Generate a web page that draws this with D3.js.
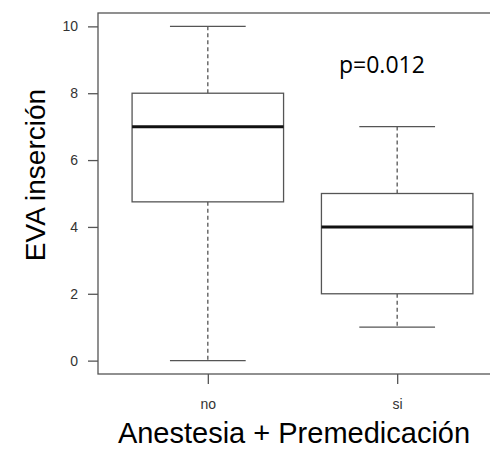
<!DOCTYPE html>
<meta charset="utf-8">
<style>
  body { margin: 0; background: #fff; }
  text { font-family: "Liberation Sans", Arial, sans-serif; }
</style>
<body>
<svg width="490" height="458"></svg>

<script src="https://cdn.jsdelivr.net/npm/d3@7"></script>
<script>

// data
var groups = ["no", "si"];
var mins    = [0, 1];
var q1s     = [4.75, 2];
var medians = [7, 4];
var q3s     = [8, 5];
var maxs    = [10, 7];
var yTicks  = [0, 2, 4, 6, 8, 10];

var svg = d3.select("svg");

// plot region (R style, axes extend 4% past data)
var plot = {left: 98, top: 13, bottom: 374, right: 507};

var x = d3.scaleLinear().domain([0.42, 2.58]).range([plot.left, plot.right]);
var y = d3.scaleLinear().domain([-0.4, 10.4]).range([plot.bottom, plot.top]);

var boxW = 0.8, capW = 0.4;

var data = groups.map(function(g, i) {
  return { name: g, pos: i + 1, min: mins[i], q1: q1s[i], med: medians[i], q3: q3s[i], max: maxs[i] };
});

var g = svg.append("g");

// frame
g.append("rect")
    .attr("x", plot.left).attr("y", plot.top)
    .attr("width", plot.right - plot.left).attr("height", plot.bottom - plot.top)
    .attr("fill", "none")
    .attr("stroke", "#555")
    .attr("stroke-width", 1.3);

var box = g.selectAll(".box")
    .data(data)
  .enter().append("g")
    .attr("class", "box");

// whiskers
box.append("line")
    .attr("x1", function(d) { return x(d.pos); })
    .attr("x2", function(d) { return x(d.pos); })
    .attr("y1", function(d) { return y(d.q3); })
    .attr("y2", function(d) { return y(d.max); })
    .attr("stroke", "#555").attr("stroke-width", 1.3)
    .attr("stroke-dasharray", "4,3");

box.append("line")
    .attr("x1", function(d) { return x(d.pos); })
    .attr("x2", function(d) { return x(d.pos); })
    .attr("y1", function(d) { return y(d.q1); })
    .attr("y2", function(d) { return y(d.min); })
    .attr("stroke", "#555").attr("stroke-width", 1.3)
    .attr("stroke-dasharray", "4,3");

// caps
["min", "max"].forEach(function(k) {
  box.append("line")
      .attr("x1", function(d) { return x(d.pos - capW / 2); })
      .attr("x2", function(d) { return x(d.pos + capW / 2); })
      .attr("y1", function(d) { return y(d[k]); })
      .attr("y2", function(d) { return y(d[k]); })
      .attr("stroke", "#555").attr("stroke-width", 1.3);
});

// boxes
box.append("rect")
    .attr("x", function(d) { return x(d.pos - boxW / 2); })
    .attr("width", function(d) { return x(d.pos + boxW / 2) - x(d.pos - boxW / 2); })
    .attr("y", function(d) { return y(d.q3); })
    .attr("height", function(d) { return y(d.q1) - y(d.q3); })
    .attr("fill", "#fff")
    .attr("stroke", "#555").attr("stroke-width", 1.3);

// medians
box.append("line")
    .attr("x1", function(d) { return x(d.pos - boxW / 2); })
    .attr("x2", function(d) { return x(d.pos + boxW / 2); })
    .attr("y1", function(d) { return y(d.med); })
    .attr("y2", function(d) { return y(d.med); })
    .attr("stroke", "#111").attr("stroke-width", 3);

// y axis
var yAxis = d3.axisLeft(y).tickValues(yTicks).tickSize(10).tickPadding(10);
var ya = g.append("g")
    .attr("transform", "translate(" + plot.left + ",0)")
    .call(yAxis);
ya.select(".domain").remove();
ya.selectAll("line").attr("stroke", "#555").attr("stroke-width", 1.3);
ya.selectAll("text")
    .attr("font-family", "Liberation Sans, Arial, sans-serif")
    .attr("font-size", 14).attr("fill", "#333");

// x axis
var xAxis = d3.axisBottom(x).tickValues([1, 2])
    .tickFormat(function(d) { return groups[d - 1]; })
    .tickSize(10).tickPadding(15);
var xa = g.append("g")
    .attr("transform", "translate(0," + plot.bottom + ")")
    .call(xAxis);
xa.select(".domain").remove();
xa.selectAll("line").attr("stroke", "#555").attr("stroke-width", 1.3);
xa.selectAll("text")
    .attr("font-family", "Liberation Sans, Arial, sans-serif")
    .attr("font-size", 14).attr("fill", "#333");

// axis titles
svg.append("text")
    .attr("x", 294).attr("y", 443)
    .attr("text-anchor", "middle")
    .attr("font-size", 29)
    .text("Anestesia + Premedicación");

svg.append("text")
    .attr("transform", "translate(45,175) rotate(-90)")
    .attr("text-anchor", "middle")
    .attr("font-size", 28)
    .text("EVA inserción");

// annotation
svg.append("text")
    .attr("x", 339).attr("y", 73)
    .style("font-family", "'Open Sans', sans-serif")
    .attr("font-size", 23)
    .text("p=0.012");

</script>
</body>
